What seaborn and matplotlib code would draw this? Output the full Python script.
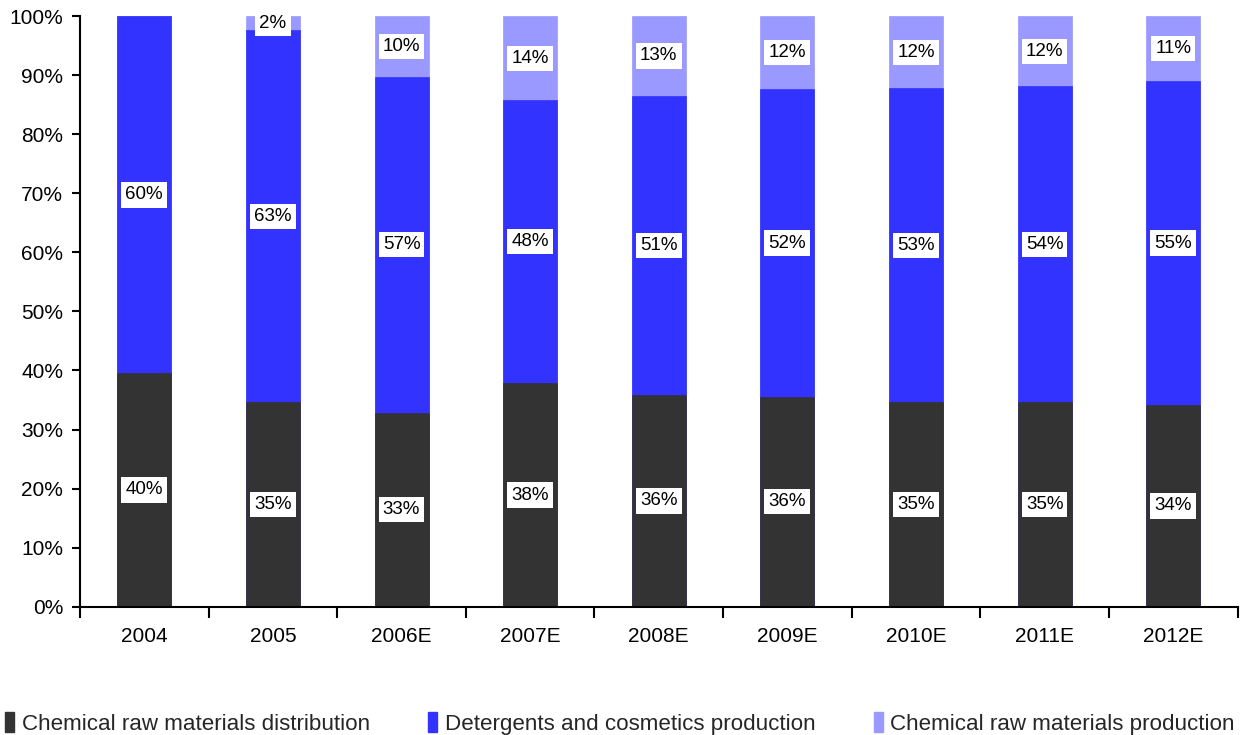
import matplotlib
matplotlib.use("Agg")
import matplotlib.pyplot as plt
import seaborn as sns
import numpy as np
import pandas as pd
from matplotlib.patches import Patch
from matplotlib.ticker import FixedLocator, PercentFormatter

years = ["2004", "2005", "2006E", "2007E", "2008E", "2009E", "2010E", "2011E", "2012E"]
distribution = [39.5, 34.6, 32.8, 37.8, 35.8, 35.5, 34.6, 34.6, 34.1]
detergents = [60.5, 63.1, 57.0, 48.0, 50.8, 52.2, 53.2, 53.6, 55.0]
production = [0.0, 2.3, 10.2, 14.2, 13.4, 12.3, 12.2, 11.8, 10.9]
series_names = ["Chemical raw materials distribution",
                "Detergents and cosmetics production",
                "Chemical raw materials production"]
colors = ["#333333", "#3333FF", "#9999FF"]

sns.set_theme(style="white")
plt.rcParams["font.family"] = ["Liberation Sans", "DejaVu Sans"]

df = pd.DataFrame({"year": years, "d": distribution, "b": detergents, "p": production})
df["top1"] = df["d"] / 100
df["top2"] = (df["d"] + df["b"]) / 100
df["top3"] = (df["d"] + df["b"] + df["p"]) / 100

fig = plt.figure(figsize=(12.4, 7.35), dpi=100)
ax = fig.add_axes([0.0645, 0.1748, 0.9335, 0.8028])

width = 0.42
for col, c in zip(["top3", "top2", "top1"], [colors[2], colors[1], colors[0]]):
    sns.barplot(data=df, x="year", y=col, color=c, width=width, ax=ax,
                saturation=1, edgecolor=c, linewidth=0.5)

# labels
for i in range(len(years)):
    segs = [(0, distribution[i]), (distribution[i], detergents[i]),
            (distribution[i] + detergents[i], production[i])]
    for base, val in segs:
        if val < 0.5:
            continue
        ax.text(i, (base + val / 2) / 100, f"{val:.0f}%", ha="center", va="center",
                fontsize=13.5, color="black",
                bbox=dict(boxstyle="square,pad=0.22", fc="white", ec="none"))

ax.set_xlim(-0.5, len(years) - 0.5)
ax.set_ylim(0, 1)
ax.set_xlabel("")
ax.set_ylabel("")
ax.yaxis.set_major_locator(FixedLocator(np.arange(0, 1.01, 0.1)))
ax.yaxis.set_major_formatter(PercentFormatter(1.0, decimals=0))
ax.xaxis.set_minor_locator(FixedLocator(np.arange(-0.5, len(years), 1.0)))
ax.tick_params(axis="x", which="major", length=0, pad=15, labelsize=15, colors="black")
ax.tick_params(axis="x", which="minor", length=8, width=1.5, direction="out", bottom=True, color="black")
ax.tick_params(axis="y", which="major", length=6, width=1.5, direction="out", left=True,
               pad=6, labelsize=15, colors="black")
for s in ["top", "right"]:
    ax.spines[s].set_visible(False)
for s in ["left", "bottom"]:
    ax.spines[s].set_color("black")
    ax.spines[s].set_linewidth(1.5)

handles = [Patch(facecolor=c, edgecolor=c) for c in colors]
fig.legend(handles, series_names, loc="lower center", bbox_to_anchor=(0.5, -0.027),
           ncol=3, frameon=False, fontsize=16.1, handlelength=0.4, handleheight=1.0,
           handletextpad=0.35, columnspacing=2.6)

fig.savefig("out.png", dpi=100)
